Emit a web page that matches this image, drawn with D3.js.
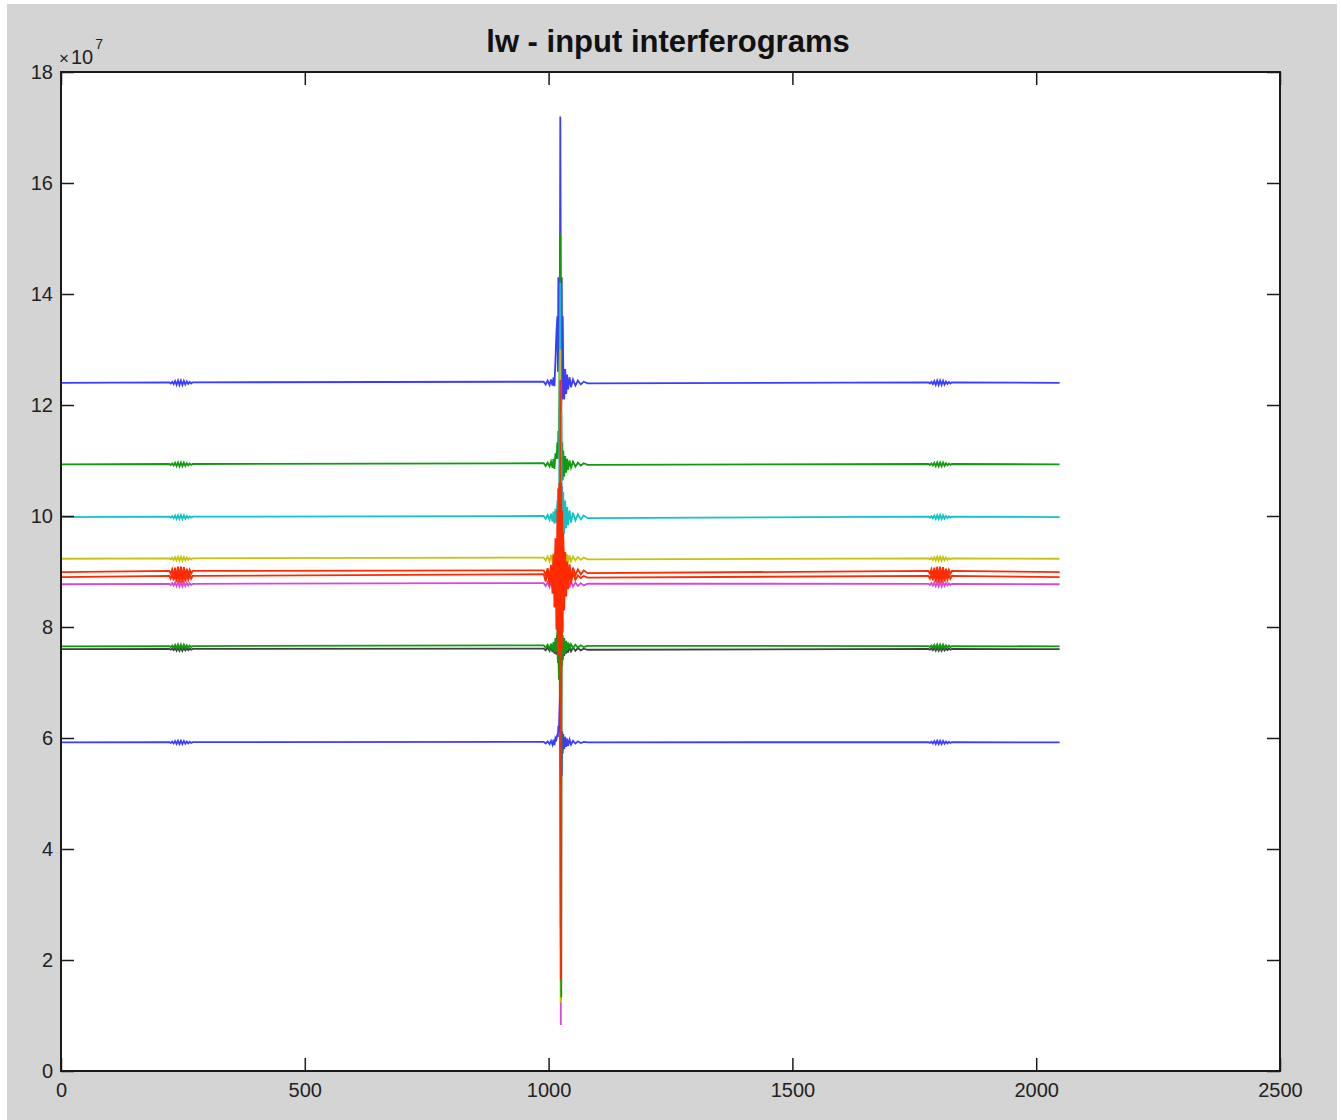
<!DOCTYPE html>
<html>
<head>
<meta charset="utf-8">
<script src="https://cdn.jsdelivr.net/npm/d3@7"></script>
<style>
  html, body { margin: 0; padding: 0; background: #ffffff; }
  svg { display: block; }
  text { font-family: "Liberation Sans", Arial, Helvetica, sans-serif; }
</style>
</head>
<body>
<svg id="chart" width="1341" height="1120"></svg>
<script>
// ---------------- data (values in units of 1e7) ----------------
const chartTitle = "lw - input interferograms";
const xTicks = [0, 500, 1000, 1500, 2000, 2500];
const yTicks = [0, 2, 4, 6, 8, 10, 12, 14, 16, 18];
const nSamples = 2048;

const seriesColors = ["#3c3cff", "#109a10", "#ff2a00", "#10c4c4", "#d848d8",
                      "#c4c40c", "#404040", "#3c3cff", "#109a10", "#ff2a00"];
const baselines = [12.40, 10.93, 8.99, 9.98, 8.77, 9.23, 7.60, 5.92, 7.65, 8.90];

// sample indices of the centre burst (shared by all series)
const burstIdx = [990, 994, 998, 1002, 1005, 1008, 1010, 1012, 1014, 1016, 1018, 1019,
                  1020, 1021, 1022, 1023, 1024, 1025, 1026, 1027, 1028, 1029, 1030, 1032,
                  1034, 1036, 1038, 1040, 1043, 1046, 1050, 1055, 1060, 1066, 1072, 1080];

// deviation from baseline at each burst index, per series
const burst1 = [0.02, -0.03, 0.04, -0.04, 0.06, -0.05, 0.10, -0.06, 0.40, 0.90, 1.20, 0.20,
                1.90, 0.40, 1.90, 0.90, 4.80, 1.90, -0.38, 1.90, -0.30, 1.20, 0.30, -0.30,
                0.25, -0.20, 0.15, -0.12, 0.10, -0.08, 0.06, -0.05, 0.04, -0.03, 0.02, -0.01];
const burst2 = [0.02, -0.03, 0.03, -0.04, 0.05, -0.06, 0.10, -0.08, 0.20, 0.10, 0.40, 0.10,
                0.60, 0.20, 1.20, 2.60, 4.17, -5.00, 1.20, -0.30, 0.40, -0.28, 0.25, -0.22,
                0.15, -0.15, 0.10, -0.10, 0.07, -0.06, 0.05, -0.04, 0.03, -0.02, 0.02, -0.01];
const burst3 = [0.03, -0.05, 0.07, -0.09, 0.12, -0.15, 0.20, -0.25, 0.35, -0.45, 0.60, -0.70,
                0.90, -1.00, 1.20, 1.50, 3.20, -6.80, 1.40, -1.10, 0.90, -0.70, 0.55, -0.45,
                0.35, -0.28, 0.22, -0.18, 0.14, -0.10, 0.08, -0.06, 0.05, -0.04, 0.03, -0.02];
const burst4 = [0.02, -0.03, 0.04, -0.05, 0.06, -0.08, 0.10, -0.12, 0.15, -0.10, 0.30, -0.20,
                0.50, -0.30, 1.20, 2.80, 4.22, -7.00, 1.90, -0.40, 0.55, -0.30, 0.45, -0.30,
                0.30, -0.20, 0.18, -0.14, 0.12, -0.10, 0.08, -0.06, 0.05, -0.04, 0.03, -0.02];
const burst5 = [0.02, -0.03, 0.04, -0.05, 0.06, -0.07, 0.09, -0.10, 0.14, -0.12, 0.25, -0.20,
                0.35, -0.25, 0.60, 1.50, 3.00, -7.94, -0.45, 0.20, -0.30, 0.15, -0.20, 0.12,
                -0.12, 0.10, -0.08, 0.07, -0.06, 0.05, -0.04, 0.03, -0.03, 0.02, -0.02, 0.01];
const burst6 = [0.02, -0.03, 0.04, -0.05, 0.07, -0.06, 0.10, -0.08, 0.15, 0.05, 0.25, 0.05,
                0.35, 0.10, 0.45, 1.20, 3.77, -8.00, 0.80, -0.20, 0.30, -0.15, 0.20, -0.12,
                0.12, -0.10, 0.08, -0.07, 0.06, -0.05, 0.04, -0.03, 0.03, -0.02, 0.02, -0.01];
const burst7 = [0.01, -0.02, 0.03, -0.03, 0.04, -0.05, 0.07, -0.08, 0.12, -0.10, 0.25, -0.20,
                0.40, -0.35, 0.60, 1.00, 2.00, -5.00, 0.60, -0.30, 0.25, -0.20, 0.15, -0.12,
                0.10, -0.08, 0.07, -0.06, 0.05, -0.04, 0.03, -0.03, 0.02, -0.02, 0.01, -0.01];
const burst8 = [0.01, -0.02, 0.02, -0.03, 0.03, -0.04, 0.05, -0.05, 0.08, 0.05, 0.15, 0.10,
                0.30, 0.20, 0.50, 0.80, 0.75, -0.77, -0.20, -0.60, 0.20, -0.20, 0.15, -0.12,
                0.10, -0.08, 0.07, -0.06, 0.05, -0.04, 0.03, -0.02, 0.02, -0.01, 0.01, 0.00];
const burst9 = [0.02, -0.02, 0.03, -0.04, 0.05, -0.07, 0.08, -0.10, 0.15, -0.10, 0.30, -0.30,
                0.55, -0.60, 0.50, -1.00, 2.50, 0.40, -6.32, 0.30, -0.25, 0.20, -0.18, 0.15,
                -0.12, 0.10, -0.08, 0.07, -0.05, 0.04, -0.03, 0.03, -0.02, 0.02, -0.01, 0.01];
const burst10 = [0.05, -0.08, 0.10, -0.15, 0.22, -0.30, 0.40, -0.55, 0.70, -0.95, 1.20, -1.30,
                 1.60, -1.40, 1.70, -1.30, 3.55, -7.26, 1.70, -1.30, 1.20, -1.00, 0.80, -0.60,
                 0.45, -0.35, 0.28, -0.22, 0.16, -0.12, 0.08, -0.05, 0.03, -0.02, 0.02, -0.01];
const bursts = [burst1, burst2, burst3, burst4, burst5, burst6, burst7, burst8, burst9, burst10];

// small side features near samples 246 and 1803
const blipCentres = [246, 1803];
const blipOffsets = [-24, -21, -18, -15, -12, -9, -6, -3, 0, 3, 6, 9, 12, 15, 18, 21, 24];
const blipShape = [0.2, -0.3, 0.5, -0.6, 0.8, -0.9, 1.0, -1.0, 1.0, -1.0, 0.9, -0.8,
                   0.6, -0.5, 0.4, -0.3, 0.2];
const blipAmps = [0.04, 0.035, 0.10, 0.035, 0.04, 0.035, 0.03, 0.03, 0.035, 0.10];

// ---------------- chart ----------------
const W = 1341, H = 1120;
const plot = { left: 61, right: 1280, top: 72, bottom: 1071 };
const svg = d3.select("#chart");

svg.append("rect").attr("x", 7).attr("y", 4).attr("width", W - 11).attr("height", H - 4)
   .attr("fill", "#d4d4d4");
svg.append("rect").attr("x", plot.left).attr("y", plot.top)
   .attr("width", plot.right - plot.left).attr("height", plot.bottom - plot.top)
   .attr("fill", "#ffffff");

const x = d3.scaleLinear().domain([0, 2500]).range([plot.left, plot.right]);
const y = d3.scaleLinear().domain([0, 18]).range([plot.bottom, plot.top]);

function buildSeries(i) {
  const base = baselines[i];
  const pts = [[1, base]];
  const addBlip = (c) => {
    blipOffsets.forEach((o, k) => pts.push([c + o, base + blipShape[k] * blipAmps[i]]));
  };
  addBlip(blipCentres[0]);
  burstIdx.forEach((s, k) => pts.push([s, base + bursts[i][k]]));
  addBlip(blipCentres[1]);
  pts.push([nSamples, base]);
  pts.sort((a, b) => a[0] - b[0]);
  return pts;
}

const line = d3.line().x(d => x(d[0])).y(d => y(d[1]));
const gLines = svg.append("g");
baselines.forEach((b, i) => {
  gLines.append("path")
    .datum(buildSeries(i))
    .attr("d", line)
    .attr("fill", "none")
    .attr("stroke", seriesColors[i])
    .attr("stroke-width", 1.8)
    .attr("stroke-linejoin", "miter");
});

// axes
const tickLen = 13;
const axisColor = "#1a1a1a";
const gx = svg.append("g").attr("transform", `translate(0,${plot.bottom})`)
  .call(d3.axisBottom(x).tickValues(xTicks).tickFormat(d3.format("d"))
        .tickSizeInner(-tickLen).tickSizeOuter(0).tickPadding(12));
const gxt = svg.append("g").attr("transform", `translate(0,${plot.top})`)
  .call(d3.axisTop(x).tickValues(xTicks).tickFormat("")
        .tickSizeInner(-tickLen).tickSizeOuter(0));
const gy = svg.append("g").attr("transform", `translate(${plot.left},0)`)
  .call(d3.axisLeft(y).tickValues(yTicks).tickFormat(d3.format("d"))
        .tickSizeInner(-tickLen).tickSizeOuter(0).tickPadding(8));
const gyr = svg.append("g").attr("transform", `translate(${plot.right},0)`)
  .call(d3.axisRight(y).tickValues(yTicks).tickFormat("")
        .tickSizeInner(-tickLen).tickSizeOuter(0));

[gx, gxt, gy, gyr].forEach(g => {
  g.selectAll(".domain").remove();
  g.selectAll(".tick line").attr("stroke", axisColor).attr("stroke-width", 1.5);
  g.selectAll(".tick text").attr("fill", "#222").style("font-size", "20px");
});

svg.append("rect").attr("x", plot.left).attr("y", plot.top)
   .attr("width", plot.right - plot.left).attr("height", plot.bottom - plot.top)
   .attr("fill", "none").attr("stroke", axisColor).attr("stroke-width", 2);

// exponent label
const expo = svg.append("text").attr("x", 59).attr("y", 64).attr("fill", "#222")
  .style("font-size", "20px");
expo.append("tspan").style("font-size", "17px").text("×");
expo.append("tspan").attr("dx", 2).text("10");
expo.append("tspan").attr("dy", -15).attr("dx", 2).style("font-size", "14px").text("7");

// title
svg.append("text").attr("x", 668).attr("y", 52).attr("text-anchor", "middle")
  .attr("fill", "#111").style("font-size", "31px").style("font-weight", "bold")
  .text(chartTitle);
</script>
</body>
</html>
